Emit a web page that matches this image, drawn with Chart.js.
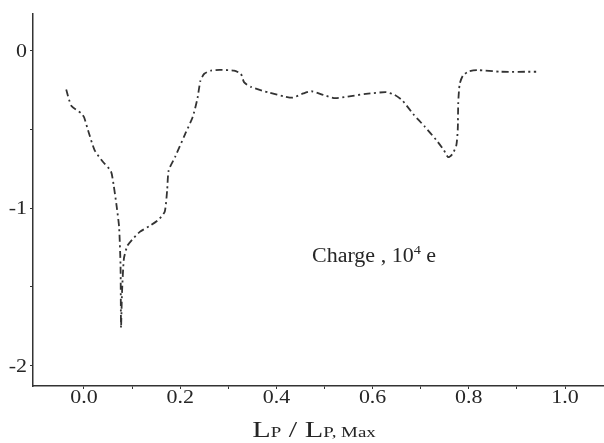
<!DOCTYPE html>
<html>
<head>
<meta charset="utf-8">
<script src="https://cdn.jsdelivr.net/npm/chart.js@4/dist/chart.umd.min.js"></script>
<style>
  html, body { margin: 0; padding: 0; background: #fff; }
  #wrap { width: 604px; height: 443px; }
</style>
</head>
<body>
<div id="wrap"><canvas id="chargeChart" width="604" height="443"></canvas></div>
<script>
// 曲線資料（L_P / L_P,Max 對 電荷）
const xValues = [-0.037, -0.026, -0.006, 0.0, 0.01, 0.022, 0.038, 0.056, 0.062, 0.068, 0.073, 0.076, 0.077, 0.079, 0.083, 0.090, 0.100, 0.116, 0.138, 0.156, 0.168, 0.173, 0.176, 0.190, 0.210, 0.226, 0.236, 0.242, 0.250, 0.264, 0.282, 0.312, 0.326, 0.333, 0.348, 0.385, 0.418, 0.434, 0.456, 0.473, 0.498, 0.522, 0.548, 0.586, 0.628, 0.646, 0.662, 0.684, 0.708, 0.732, 0.748, 0.757, 0.766, 0.774, 0.777, 0.778, 0.781, 0.788, 0.800, 0.818, 0.866, 0.940];
const chargeValues = [-0.245, -0.35, -0.395, -0.42, -0.52, -0.63, -0.70, -0.765, -0.86, -0.99, -1.12, -1.37, -1.76, -1.54, -1.32, -1.24, -1.20, -1.15, -1.11, -1.07, -1.02, -0.88, -0.76, -0.67, -0.53, -0.42, -0.30, -0.19, -0.145, -0.125, -0.12, -0.125, -0.145, -0.2, -0.23, -0.265, -0.29, -0.297, -0.27, -0.256, -0.28, -0.30, -0.29, -0.273, -0.262, -0.28, -0.315, -0.40, -0.48, -0.565, -0.63, -0.675, -0.655, -0.60, -0.50, -0.33, -0.21, -0.155, -0.13, -0.122, -0.132, -0.132];

// 刻度
const xTicks = [0.0, 0.1, 0.2, 0.3, 0.4, 0.5, 0.6, 0.7, 0.8, 0.9, 1.0];
const xTickLabels = ['0.0', '', '0.2', '', '0.4', '', '0.6', '', '0.8', '', '1.0'];
const yTicks = [-2, -1.5, -1, -0.5, 0];
const yTickLabels = ['-2', '', '-1', '', '0'];

const points = xValues.map((x, i) => ({ x: x, y: chargeValues[i] }));
const serif = '"Liberation Serif", "DejaVu Serif", serif';
const ink = '#262626';

// 依序畫出一串不同字級的文字（可橫向拉寬）
function drawRuns(ctx, runs, x, y, align, stretch) {
    let total = 0;
    runs.forEach(r => {
        ctx.font = r.size + 'px ' + serif;
        total += ctx.measureText(r.text).width;
    });
    let start = 0;
    if (align === 'center') start = -total / 2;
    if (align === 'right') start = -total;
    ctx.save();
    ctx.translate(x, y);
    ctx.scale(stretch, 1);
    let cx = start;
    runs.forEach(r => {
        ctx.font = r.size + 'px ' + serif;
        ctx.fillText(r.text, cx, r.dy || 0);
        cx += ctx.measureText(r.text).width;
    });
    ctx.restore();
}

const textPlugin = {
    id: 'textPlugin',
    afterDraw(chart) {
        const ctx = chart.ctx;
        const xs = chart.scales.x;
        const ys = chart.scales.y;
        ctx.save();
        ctx.fillStyle = ink;
        ctx.textAlign = 'left';
        ctx.textBaseline = 'alphabetic';

        // x 軸刻度文字
        xTicks.forEach((v, i) => {
            if (!xTickLabels[i]) return;
            drawRuns(ctx, [{ text: xTickLabels[i], size: 18 }], xs.getPixelForValue(v), 403, 'center', 1.22);
        });
        // y 軸刻度文字
        yTicks.forEach((v, i) => {
            if (!yTickLabels[i]) return;
            drawRuns(ctx, [{ text: yTickLabels[i], size: 18 }], 27, ys.getPixelForValue(v) + 6, 'right', 1.22);
        });

        // Charge , 10^4 e
        drawRuns(ctx, [
            { text: 'Charge , 10', size: 20 },
            { text: '4', size: 13, dy: -8 },
            { text: ' e', size: 20 }
        ], xs.getPixelForValue(0.474), ys.getPixelForValue(-1.30) + 7, 'left', 1.1);

        // L_P / L_P, Max
        drawRuns(ctx, [
            { text: 'L', size: 24 },
            { text: 'P', size: 15 },
            { text: ' / L', size: 24 },
            { text: 'P, Max', size: 15 }
        ], 314, 437, 'center', 1.26);

        ctx.restore();
    }
};

new Chart(document.getElementById('chargeChart'), {
    type: 'scatter',
    data: {
        datasets: [{
            data: points,
            showLine: true,
            borderColor: '#333',
            borderWidth: 1.8,
            borderDash: [7, 3.5, 2, 3.5],
            pointRadius: 0,
            tension: 0.2,
            fill: false
        }]
    },
    options: {
        responsive: false,
        animation: false,
        layout: { padding: { top: 14, left: 0, right: 0, bottom: 0 } },
        plugins: {
            legend: { display: false },
            tooltip: { enabled: false }
        },
        scales: {
            x: {
                type: 'linear',
                min: -0.106,
                max: 1.081,
                afterFit: scale => { scale.height = 57; },
                afterBuildTicks: scale => { scale.ticks = xTicks.map(v => ({ value: v })); },
                ticks: { display: false },
                grid: { drawOnChartArea: false, drawTicks: true, tickLength: 3, color: '#333' },
                border: { display: true, color: '#333', width: 1.5 }
            },
            y: {
                type: 'linear',
                min: -2.13,
                max: 0.235,
                afterFit: scale => { scale.width = 33; },
                afterBuildTicks: scale => { scale.ticks = yTicks.map(v => ({ value: v })); },
                ticks: { display: false },
                grid: { drawOnChartArea: false, drawTicks: true, tickLength: 3, color: '#333' },
                border: { display: true, color: '#333', width: 1.5 }
            }
        }
    },
    plugins: [textPlugin]
});
</script>
</body>
</html>
